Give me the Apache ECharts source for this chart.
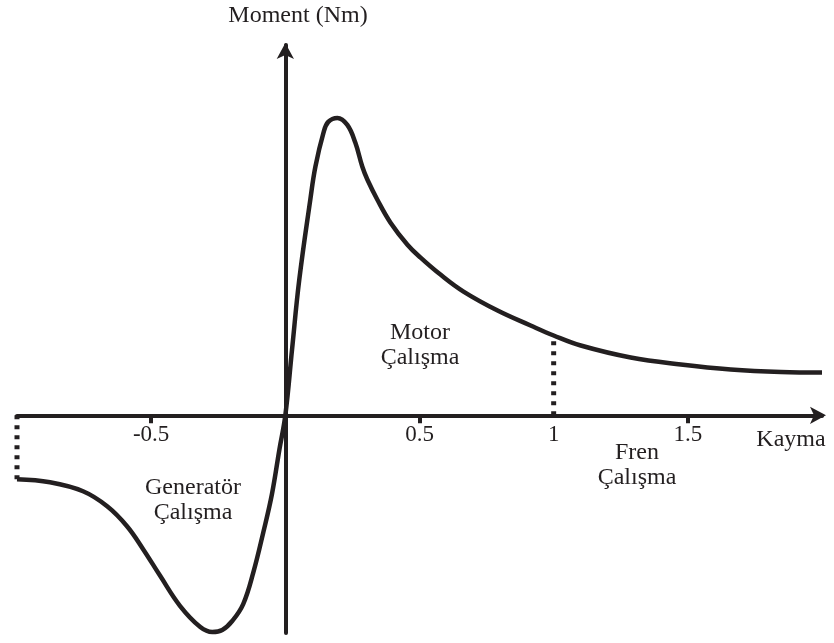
<!DOCTYPE html>
<html>
<head>
<meta charset="utf-8">
<script src="https://cdn.jsdelivr.net/npm/echarts@6/dist/echarts.min.js"></script>
<style>
  html, body { margin: 0; padding: 0; background: #fff; }
  #chart { width: 834px; height: 643px; }
</style>
</head>
<body>
<div id="chart"></div>
<script>
// torque-slip characteristic
const slip = [-1.0, -0.877, -0.754, -0.664, -0.59, -0.53, -0.466, -0.392, -0.317, -0.272, -0.235, -0.198,
    -0.157, -0.119, -0.082, -0.05, -0.022, 0, 0.025, 0.052, 0.093, 0.112, 0.142, 0.16, 0.194, 0.231,
    0.261, 0.287, 0.306, 0.343, 0.392, 0.455, 0.504, 0.578, 0.664, 0.791, 0.914, 1.0, 1.101, 1.287,
    1.474, 1.66, 1.847, 2.0];
const torque = [-0.64, -0.67, -0.76, -0.91, -1.11, -1.34, -1.61, -1.91, -2.12, -2.17, -2.15, -2.06,
    -1.89, -1.57, -1.17, -0.79, -0.34, 0, 0.66, 1.36, 2.16, 2.49, 2.83, 2.94, 2.98, 2.91,
    2.73, 2.49, 2.36, 2.16, 1.93, 1.71, 1.58, 1.41, 1.24, 1.05, 0.9, 0.8, 0.7, 0.58,
    0.51, 0.46, 0.435, 0.43];

// dotted guide lines from the slip axis up/down to the curve
const guideSlip = [-1, 1];
const guideTorque = [-0.64, 0.8];

const tickValues = [-0.5, 0.5, 1.5];
const labelValues = [-0.5, 0.5, 1, 1.5];

const ink = '#231f20';
const serif = '"Liberation Serif", "Times New Roman", serif';

const yMin = -2.18, yMax = 3.71;
const gridTop = 45, gridBottom = 10, chartHeight = 643;
// shift the slip axis (line, ticks and labels together) up to torque = 0
const xAxisOffset = -(chartHeight - gridTop - gridBottom) * (0 - yMin) / (yMax - yMin);

const chart = echarts.init(document.getElementById('chart'));

const guides = guideSlip.map((s, i) => ({
    type: 'line',
    data: [[s, 0], [s, guideTorque[i]]],
    symbol: 'none',
    silent: true,
    lineStyle: { color: ink, width: 5, type: [4, 6], cap: 'butt' },
    z: 1
}));

const label = (text, x, y) => ({
    type: 'text',
    x: x,
    y: y,
    style: {
        text: text,
        fill: ink,
        font: '24px ' + serif,
        align: 'center',
        verticalAlign: 'middle',
        lineHeight: 25
    }
});

chart.setOption({
    animation: false,
    grid: { left: 17, right: 12, top: gridTop, bottom: gridBottom },
    xAxis: {
        type: 'value',
        min: -1,
        max: 2.0,
        offset: xAxisOffset,
        splitLine: { show: false },
        axisLine: {
            onZero: false,
            symbol: ['none', 'arrow'],
            symbolSize: [13, 16],
            symbolOffset: [0, 4],
            lineStyle: { color: ink, width: 4 }
        },
        axisTick: {
            customValues: tickValues,
            length: 8,
            lineStyle: { color: ink, width: 4 }
        },
        axisLabel: {
            customValues: labelValues,
            formatter: v => String(v),
            color: ink,
            fontFamily: serif,
            fontSize: 23,
            margin: 8
        }
    },
    yAxis: {
        type: 'value',
        min: yMin,
        max: yMax,
        splitLine: { show: false },
        axisTick: { show: false },
        axisLabel: { show: false },
        axisLine: {
            onZero: true,
            symbol: ['none', 'arrow'],
            symbolSize: [13, 16],
            symbolOffset: [0, 2],
            lineStyle: { color: ink, width: 4 }
        }
    },
    graphic: [
        label('Moment (Nm)', 298, 16),
        label('Kayma', 791, 440),
        label('Motor\nÇalışma', 420, 345),
        label('Generatör\nÇalışma', 193, 500),
        label('Fren\nÇalışma', 637, 465)
    ],
    series: [
        {
            type: 'line',
            data: slip.map((s, i) => [s, torque[i]]),
            symbol: 'none',
            smooth: 0.4,
            lineStyle: { color: ink, width: 4.5 },
            z: 3
        },
        ...guides
    ]
});
</script>
</body>
</html>
